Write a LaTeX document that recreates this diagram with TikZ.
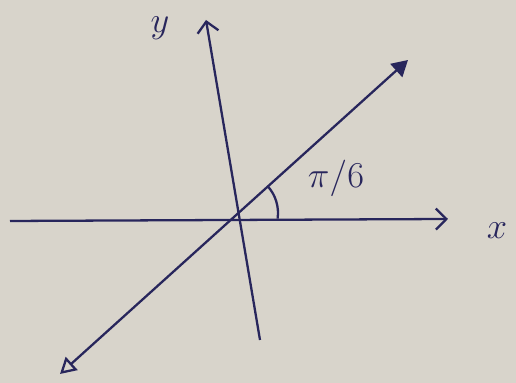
\documentclass[tikz,border=0pt]{standalone}
\usetikzlibrary{arrows.meta}
\definecolor{paper}{RGB}{216,212,203}
\definecolor{ink}{RGB}{40,38,92}
\begin{document}
\begin{tikzpicture}[every node/.style={font=\huge, text=ink},
  axis/.style={ink, line width=1.3pt, -{Straight Barb[length=6pt, width=12pt, line width=1.3pt]}},
  vect/.style={ink, line width=1.3pt, {Triangle[open, length=9pt, width=10pt, line width=1.3pt]}-{Triangle[length=9pt, width=10pt]}}]
  \fill[paper] (0,0) rectangle (10.32,7.66);
  \useasboundingbox (0,0) rectangle (10.32,7.66);

  \coordinate (O) at (4.76,3.40);
  \coordinate (xl) at (0.20,3.24);
  \coordinate (xr) at (8.96,3.28);
  \coordinate (yb) at (5.20,0.86);
  \coordinate (yt) at (4.12,7.26);
  \coordinate (vb) at (1.20,0.18);
  \coordinate (vt) at (8.16,6.46);

  \draw[axis] (xl) -- (xr);
  \draw[axis] (yb) -- (yt);
  \draw[vect] (vb) -- (vt);
  \draw[ink, line width=1.3pt] (O) ++(42:0.8) arc[start angle=42, end angle=-8, radius=0.8];

  \node (xlab) at (9.94,3.04) {$x$};
  \node (ylab) at (3.20,7.10) {$y$};
  \node (ang) at (6.72,4.10) {$\pi/6$};
\end{tikzpicture}
\end{document}
